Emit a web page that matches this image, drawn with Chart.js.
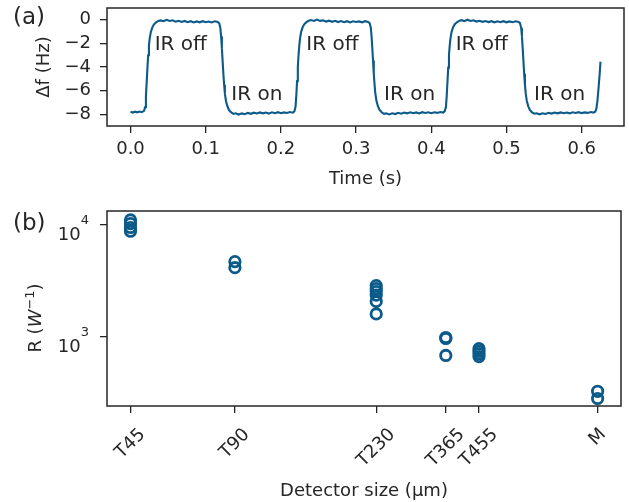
<!DOCTYPE html>
<html><head><meta charset="utf-8">
<script src="https://cdn.jsdelivr.net/npm/chart.js@4"></script>
<style>
html,body{margin:0;padding:0;background:#fff;width:629px;height:502px;overflow:hidden}
#ca{position:absolute;left:0;top:0}
#cb{position:absolute;left:0;top:190px}
</style></head><body>
<canvas id="ca" width="629" height="190"></canvas>
<canvas id="cb" width="629" height="312"></canvas>
<script>
// ---------- panel (a): frequency shift vs time ----------
const timeS = [
0.000,0.003,0.006,0.009,0.012,0.015,0.018,
0.0195,0.0205,0.0215,0.0225,0.0235,0.0245,0.0255,0.027,0.029,0.031,0.034,0.037,
0.040,0.044,0.048,0.052,0.056,0.060,0.064,0.068,0.072,0.076,0.080,0.084,0.088,0.092,0.096,0.100,0.104,0.108,0.112,0.116,0.118,
0.1195,0.1205,0.1215,0.1225,0.1235,0.1245,0.1255,0.127,0.129,0.131,0.134,0.137,
0.140,0.144,0.148,0.152,0.156,0.160,0.164,0.168,0.172,0.176,0.180,0.184,0.188,0.192,0.196,0.200,0.204,0.208,0.212,0.216,0.218,
0.2195,0.2205,0.2215,0.2225,0.2235,0.2245,0.2255,0.227,0.229,0.231,0.234,0.237,
0.240,0.244,0.248,0.252,0.256,0.260,0.264,0.268,0.272,0.276,0.280,0.284,0.288,0.292,0.296,0.300,0.304,0.308,0.312,0.316,0.318,
0.3195,0.3205,0.3215,0.3225,0.3235,0.3245,0.3255,0.327,0.329,0.331,0.334,0.337,
0.340,0.344,0.348,0.352,0.356,0.360,0.364,0.368,0.372,0.376,0.380,0.384,0.388,0.392,0.396,0.400,0.404,0.408,0.412,0.416,0.418,
0.4195,0.4205,0.4215,0.4225,0.4235,0.4245,0.4255,0.427,0.429,0.431,0.434,0.437,
0.440,0.444,0.448,0.452,0.456,0.460,0.464,0.468,0.472,0.476,0.480,0.484,0.488,0.492,0.496,0.500,0.504,0.508,0.512,0.516,0.518,
0.5195,0.5205,0.5215,0.5225,0.5235,0.5245,0.5255,0.527,0.529,0.531,0.534,0.537,
0.540,0.544,0.548,0.552,0.556,0.560,0.564,0.568,0.572,0.576,0.580,0.584,0.588,0.592,0.596,0.600,0.604,0.608,0.612,0.616,0.618,
0.6195,0.621,0.6225,0.624,0.625
];
const deltaF = [
-7.80,-7.86,-7.79,-7.84,-7.78,-7.83,-7.72,
-7.40,-6.50,-5.30,-4.10,-3.00,-2.20,-1.60,-1.05,-0.65,-0.40,-0.22,-0.10,
-0.05,-0.12,0.00,-0.10,-0.04,-0.16,-0.08,-0.18,-0.10,-0.20,-0.12,-0.22,-0.14,-0.21,-0.12,-0.20,-0.15,-0.22,-0.13,-0.19,-0.30,
-0.70,-1.40,-2.40,-3.50,-4.60,-5.50,-6.25,-6.90,-7.35,-7.65,-7.85,-7.98,
-7.92,-8.03,-7.93,-8.00,-7.89,-7.97,-7.87,-7.94,-7.85,-7.93,-7.86,-7.95,-7.84,-7.91,-7.83,-7.92,-7.85,-7.90,-7.82,-7.87,-7.74,
-7.35,-6.40,-5.20,-4.00,-2.95,-2.15,-1.55,-1.00,-0.62,-0.38,-0.20,-0.08,
-0.02,-0.10,0.02,-0.09,-0.05,-0.15,-0.07,-0.17,-0.09,-0.19,-0.11,-0.20,-0.12,-0.22,-0.13,-0.19,-0.14,-0.21,-0.12,-0.18,-0.28,
-0.65,-1.35,-2.35,-3.45,-4.55,-5.45,-6.20,-6.85,-7.32,-7.62,-7.84,-7.97,
-7.93,-8.02,-7.92,-7.99,-7.88,-7.96,-7.86,-7.93,-7.84,-7.92,-7.85,-7.94,-7.83,-7.90,-7.84,-7.91,-7.84,-7.89,-7.81,-7.86,-7.72,
-7.38,-6.45,-5.25,-4.05,-2.98,-2.18,-1.58,-1.02,-0.63,-0.39,-0.21,-0.09,
-0.03,-0.11,0.01,-0.10,-0.04,-0.15,-0.08,-0.17,-0.10,-0.19,-0.12,-0.21,-0.13,-0.20,-0.12,-0.21,-0.14,-0.20,-0.13,-0.19,-0.29,
-0.68,-1.38,-2.38,-3.48,-4.58,-5.48,-6.22,-6.88,-7.33,-7.63,-7.84,-7.96,
-7.92,-8.01,-7.92,-7.98,-7.88,-7.95,-7.86,-7.93,-7.85,-7.92,-7.86,-7.93,-7.84,-7.90,-7.83,-7.91,-7.85,-7.89,-7.82,-7.86,-7.78,
-7.55,-6.80,-5.70,-4.50,-3.55
];
const topXTicks = [0.0, 0.1, 0.2, 0.3, 0.4, 0.5, 0.6];
const topXTickLabels = ['0.0', '0.1', '0.2', '0.3', '0.4', '0.5', '0.6'];
const topYTicks = [-8, -6, -4, -2, 0];
const topYTickLabels = ['\u22128', '\u22126', '\u22124', '\u22122', '0'];
const annoText = ['IR off', 'IR on', 'IR off', 'IR on', 'IR off', 'IR on'];
const annoT = [0.0322, 0.134, 0.2338, 0.3371, 0.4324, 0.5366];
const annoV = [-2.12, -6.37, -2.12, -6.37, -2.12, -6.37];

// ---------- panel (b): responsivity vs detector ----------
const detectors = ['T45', 'T90', 'T230', 'T365', 'T455', 'M'];
const detectorSizes = [45, 90, 230, 365, 455, 1000];
const respT45 = [11100, 10300, 9500, 8800];
const respT90 = [4700, 4150];
const respT230 = [2870, 2700, 2540, 2360, 2070, 1600];
const respT365 = [985, 965, 680];
const respT455 = [784, 745, 705, 665];
const respM = [325, 280];
const respByDetector = [respT45, respT90, respT230, respT365, respT455, respM];
const botYTicks = [1000, 10000];
const botYTickBase = ['10', '10'];
const botYTickExp = ['3', '4'];

// ---------- styling ----------
const INK = '#262626';
const BLUE = '#0b5a8a';
const FONT = "'DejaVu Sans', sans-serif";

const boxPlugin = {
  id: 'box',
  afterDraw(chart) {
    const {ctx, chartArea: a} = chart;
    ctx.save();
    ctx.strokeStyle = INK; ctx.lineWidth = 1.5;
    ctx.strokeRect(a.left, a.top, a.right - a.left, a.bottom - a.top);
    ctx.restore();
  }
};
function panelLabel(id, txt, x, y) {
  return { id, afterDraw(chart) {
    const ctx = chart.ctx; ctx.save();
    ctx.fillStyle = INK; ctx.font = '23px ' + FONT;
    ctx.textAlign = 'left'; ctx.textBaseline = 'alphabetic';
    ctx.fillText(txt, x, y); ctx.restore();
  }};
}
const annoPlugin = {
  id: 'anno',
  afterDatasetsDraw(chart) {
    const ctx = chart.ctx, xs = chart.scales.x, ys = chart.scales.y;
    ctx.save(); ctx.fillStyle = INK; ctx.font = '20px ' + FONT;
    ctx.textAlign = 'left'; ctx.textBaseline = 'middle';
    annoText.forEach((t, i) => ctx.fillText(t, xs.getPixelForValue(annoT[i]), ys.getPixelForValue(annoV[i])));
    ctx.restore();
  }
};
const tickGrid = { display: true, drawOnChartArea: false, drawTicks: true, tickLength: 7, color: INK, lineWidth: 1.3 };
function fixH(h) { return s => { s.height = h; s.paddingLeft = 0; s.paddingRight = 0; s.paddingTop = 0; s.paddingBottom = 0; }; }
function fixW(w) { return s => { s.width = w; s.paddingLeft = 0; s.paddingRight = 0; s.paddingTop = 0; s.paddingBottom = 0; }; }

new Chart(document.getElementById('ca'), {
  type: 'line',
  data: { datasets: [{
    data: timeS.map((t, i) => ({x: t, y: deltaF[i]})),
    borderColor: BLUE, borderWidth: 2.1, pointRadius: 0, tension: 0, fill: false
  }]},
  options: {
    responsive: false, animation: false, devicePixelRatio: 1,
    layout: { padding: { left: 0, right: 5, top: 8, bottom: 0 } },
    plugins: { legend: { display: false }, tooltip: { enabled: false } },
    scales: {
      x: {
        type: 'linear', min: -0.03125, max: 0.65625,
        afterBuildTicks: s => { s.ticks = topXTicks.map(v => ({value: v})); },
        afterFit: fixH(64),
        grid: tickGrid, border: { display: false },
        ticks: { color: INK, font: { family: FONT, size: 18 }, padding: 6, maxRotation: 0, autoSkip: false,
          callback: (v, i) => topXTickLabels[i] },
        title: { display: true, text: 'Time (s)', color: INK, font: { family: FONT, size: 18 }, padding: 0 }
      },
      y: {
        type: 'linear', min: -9, max: 1,
        afterBuildTicks: s => { s.ticks = topYTicks.map(v => ({value: v})); },
        afterFit: fixW(107),
        grid: tickGrid, border: { display: false },
        ticks: { color: INK, font: { family: FONT, size: 18 }, padding: 9, autoSkip: false,
          callback: (v, i) => topYTickLabels[i] },
        title: { display: true, text: '\u0394f (Hz)', color: INK, font: { family: FONT, size: 18 }, padding: { top: 34, bottom: 0 } }
      }
    }
  },
  plugins: [boxPlugin, annoPlugin, panelLabel('panelA', '(a)', 13, 24)]
});

const bottomText = {
  id: 'bottomText',
  afterDraw(chart) {
    const ctx = chart.ctx, xs = chart.scales.x, ys = chart.scales.y, a = chart.chartArea;
    ctx.save(); ctx.fillStyle = INK;
    // rotated x tick labels, centred on their ticks
    ctx.font = '18px ' + FONT;
    detectors.forEach((lab, i) => {
      const px = xs.getPixelForValue(detectorSizes[i]);
      const w = ctx.measureText(lab).width;
      const half = (w + 13.5) * Math.SQRT1_2 / 2;
      ctx.save();
      ctx.translate(px, a.bottom + 21 + half);
      ctx.rotate(-Math.PI / 4);
      ctx.textAlign = 'center'; ctx.textBaseline = 'middle';
      ctx.fillText(lab, 0, 0);
      ctx.restore();
    });
    // y tick labels 10^n, right-aligned next to the ticks
    ctx.textBaseline = 'alphabetic'; ctx.textAlign = 'left';
    botYTicks.forEach((v, i) => {
      const py = ys.getPixelForValue(v);
      ctx.font = '13px ' + FONT;
      const ws = ctx.measureText(botYTickExp[i]).width;
      ctx.font = '18px ' + FONT;
      const wb = ctx.measureText(botYTickBase[i]).width;
      const x0 = a.left - 18 - ws - wb;
      ctx.fillText(botYTickBase[i], x0, py + 15);
      ctx.font = '13px ' + FONT;
      ctx.fillText(botYTickExp[i], x0 + wb, py - 1);
    });
    // y title R (W^-1)
    const parts = [
      { t: 'R (', f: '18px ' + FONT, dy: 0 },
      { t: 'W', f: 'italic 18px ' + FONT, dy: 0 },
      { t: '\u22121', f: '13px ' + FONT, dy: -7.5 },
      { t: ')', f: '18px ' + FONT, dy: 0 }
    ];
    let total = 0;
    parts.forEach(p => { ctx.font = p.f; p.w = ctx.measureText(p.t).width; total += p.w; });
    ctx.save();
    ctx.translate(41, 128);
    ctx.rotate(-Math.PI / 2);
    let cx = -total / 2;
    parts.forEach(p => { ctx.font = p.f; ctx.fillText(p.t, cx, p.dy); cx += p.w; });
    ctx.restore();
    ctx.restore();
  }
};

const scatterData = [];
detectorSizes.forEach((s, i) => respByDetector[i].forEach(v => scatterData.push({x: s, y: v})));

new Chart(document.getElementById('cb'), {
  type: 'scatter',
  data: { datasets: [{
    data: scatterData, pointStyle: 'circle', pointRadius: 5.2, borderWidth: 2.8,
    borderColor: BLUE, backgroundColor: 'rgba(0,0,0,0)', pointHoverRadius: 5.2
  }]},
  options: {
    responsive: false, animation: false, devicePixelRatio: 1,
    layout: { padding: { left: 0, right: 5, top: 21, bottom: 0 } },
    plugins: { legend: { display: false }, tooltip: { enabled: false } },
    scales: {
      x: {
        type: 'logarithmic', min: 38.5, max: 1168,
        afterBuildTicks: s => { s.ticks = detectorSizes.map(v => ({value: v})); },
        afterFit: fixH(96),
        grid: tickGrid, border: { display: false },
        ticks: { display: false },
        title: { display: true, text: 'Detector size (\u03bcm)', color: INK, font: { family: FONT, size: 18 }, padding: 0 }
      },
      y: {
        type: 'logarithmic', min: 240, max: 13350,
        afterBuildTicks: s => { s.ticks = botYTicks.map(v => ({value: v})); },
        afterFit: fixW(107),
        grid: tickGrid, border: { display: false },
        ticks: { display: false }
      }
    }
  },
  plugins: [boxPlugin, bottomText, panelLabel('panelB', '(b)', 13, 40)]
});
</script>
</body></html>
